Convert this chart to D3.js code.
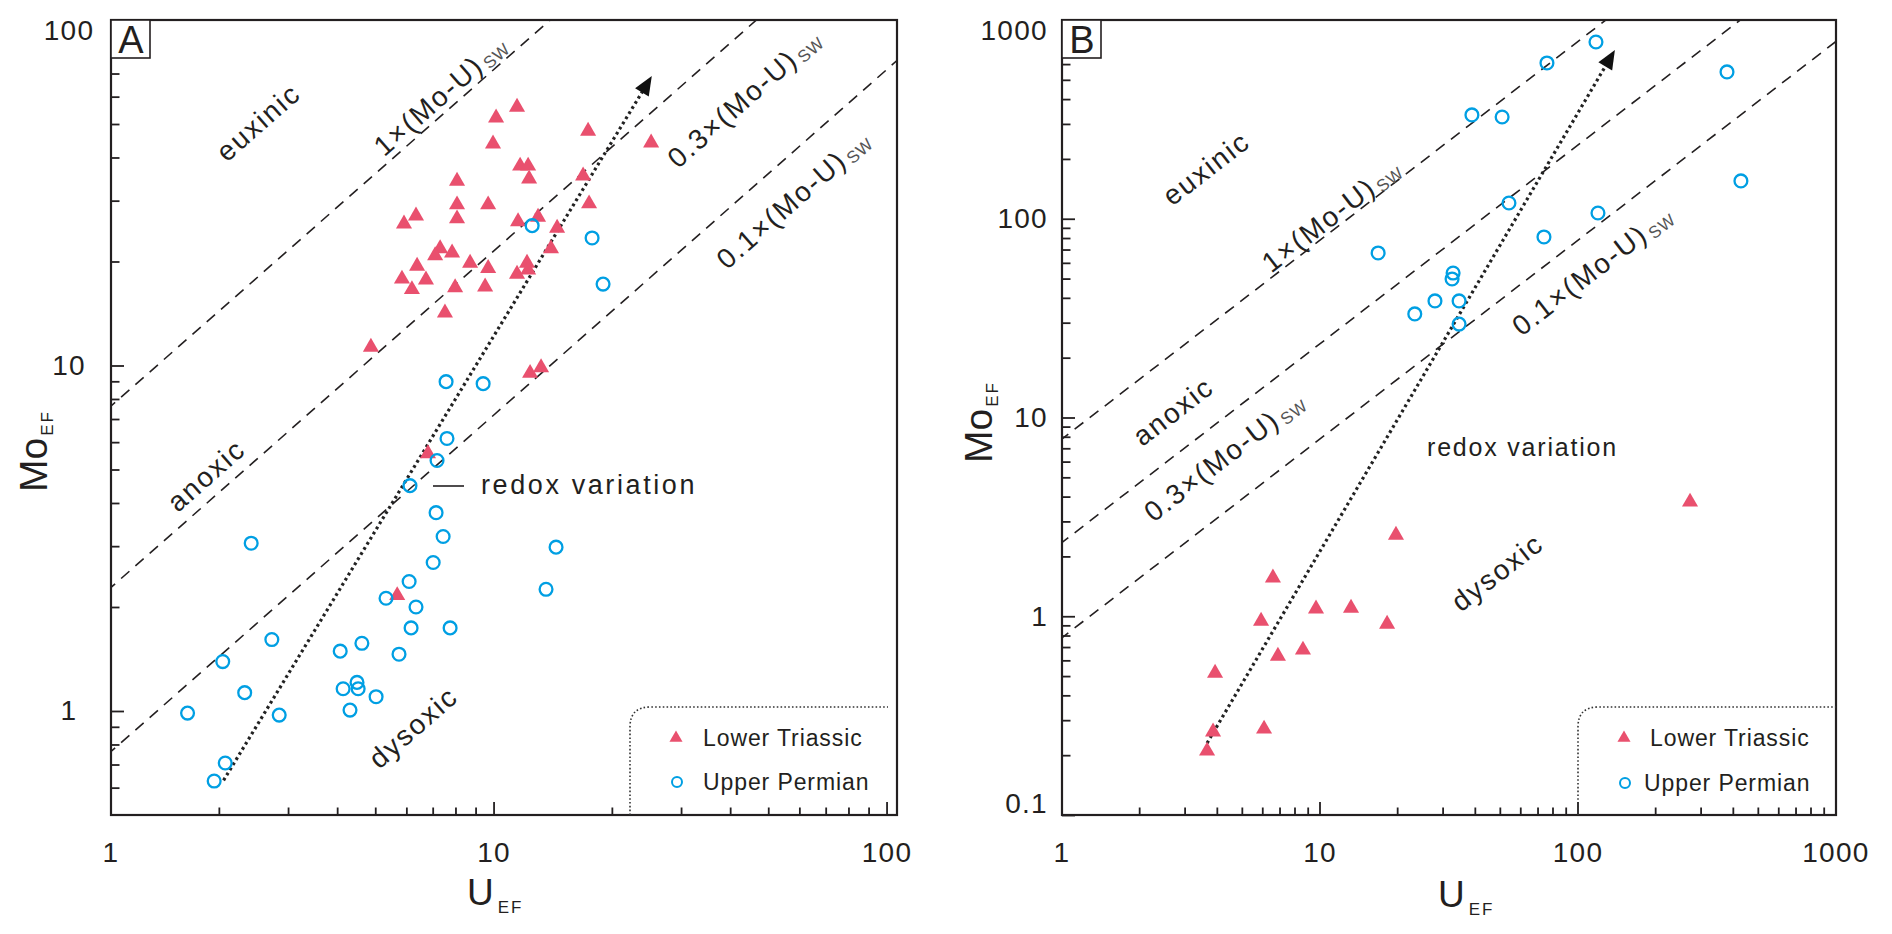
<!DOCTYPE html>
<html><head><meta charset="utf-8">
<script src="https://cdn.jsdelivr.net/npm/d3@7"></script>
<style>html,body{margin:0;padding:0;background:#fff}</style>
</head><body>
<svg id="chart" width="1892" height="934"></svg>
<script>
// ---------------- data ----------------
// Panel A
const aTriU  = [8.05,8.05,8.05,6.33,5.90,7.29,7.08,7.82,8.69,6.37,5.83,6.71,6.18,7.96,7.50,4.86,11.44,10.12,9.94,17.35,25.1,11.65,12.21,12.28,9.66,16.85,17.45,11.51,12.94,14.47,13.96,9.66,9.49,12.13,12.21,11.44,12.35,13.17,6.79,5.67];
const aTriMo = [34.2,29.2,26.6,27.1,25.7,21.8,20.8,21.2,19.8,19.4,17.8,17.7,16.6,16.8,14.2,11.3,56.0,52.1,43.8,47.7,44.1,37.8,37.8,34.7,29.2,35.4,29.4,26.1,26.9,25.0,21.8,19.1,16.9,19.8,18.9,18.4,9.5,9.86,5.56,2.16];
const aCirU  = [12.50,17.76,18.94,7.55,9.38,7.59,7.16,6.11,7.12,7.42,7.00,6.08,5.31,6.33,6.15,7.73,4.61,4.06,5.73,2.41,2.72,2.04,2.32,4.48,4.13,4.51,5.01,14.38,13.56,1.66,2.84,4.30,2.07,1.94];
const aCirMo = [25.4,23.4,17.2,8.98,8.86,6.15,5.31,4.49,3.75,3.20,2.69,2.37,2.12,2.00,1.74,1.74,1.57,1.49,1.46,3.06,1.61,1.39,1.13,1.21,1.16,1.16,1.10,2.98,2.25,0.986,0.973,1.006,0.707,0.627];
const aRatios = [7.2, 2.15, 0.72];           // 1x, 0.3x, 0.1x (Mo/U)sw lines
const aArrowU = [2.05, 25.2], aArrowMo = [0.63, 68.8];
// Panel B
const bTriU  = [19.7,6.57,5.91,9.65,13.19,18.2,6.87,8.59,3.92,3.85,6.07,3.65,271.8];
const bTriMo = [2.56,1.56,0.946,1.09,1.10,0.914,0.631,0.677,0.518,0.262,0.271,0.210,3.76];
const bCirU  = [117.4,75.8,38.8,50.8,378,428,54.0,119.5,73.8,16.8,32.8,32.5,27.9,34.6,23.3,34.6];
const bCirMo = [775,608,333,325,548,155,120,106.9,81.0,67.3,53.3,49.8,38.6,38.6,33.2,29.5];
const bRatios = [7.8, 2.35, 0.78];
const bArrowU = [3.65, 139], bArrowMo = [0.23, 706];
// ticks
const aXMajor = [1,10,100], aXMinor = [2,3,4,5,6,7,8,9,20,30,40,50,60,70,80,90];
const aYMajor = [1,10,100], aYMinor = [0.6,0.7,0.8,0.9,2,3,4,5,6,7,8,9,20,30,40,50,60,70,80,90];
const bXMajor = [1,10,100,1000], bXMinor = [2,3,4,5,6,7,8,9,20,30,40,50,60,70,80,90,200,300,400,500,600,700,800,900];
const bYMajor = [0.1,1,10,100,1000], bYMinor = [0.2,0.3,0.4,0.5,0.6,0.7,0.8,0.9,2,3,4,5,6,7,8,9,20,30,40,50,60,70,80,90,200,300,400,500,600,700,800,900];
const legendNames = ["Lower Triassic","Upper Permian"];
// --------------------------------------------------------------

const FONT = '"Liberation Sans", Arial, Helvetica, sans-serif';
const INK = '#231f20', RED = '#e9506e', BLUE = '#009fe3';
const svg = d3.select('#chart');
const defs = svg.append('defs');

function zip(u, m){ return u.map((v,i)=>({u:v, m:m[i]})); }

function panel(c){
  const x = d3.scaleLog().domain(c.xDomain).range([c.left, c.right]);
  const y = d3.scaleLog().domain(c.yDomain).range([c.bottom, c.top]);
  const g = svg.append('g');
  defs.append('clipPath').attr('id','clip'+c.id).append('rect')
    .attr('x',c.left).attr('y',c.top).attr('width',c.right-c.left).attr('height',c.bottom-c.top);

  // reference lines
  const lg = g.append('g').attr('clip-path',`url(#clip${c.id})`);
  const line = d3.line().x(d=>x(d.u)).y(d=>y(d.m));
  c.ratios.forEach(k=>{
    const us = [c.xDomain[0]*0.5, c.xDomain[1]*2];
    lg.append('path').attr('d', line(us.map(u=>({u, m:k*u}))))
      .attr('fill','none').attr('stroke',INK).attr('stroke-width',1.6).attr('stroke-dasharray','11,8');
  });

  // axes
  const xMin = d3.axisBottom(x).tickValues(c.xMinor).tickSize(-7.5).tickFormat('');
  const xMaj = d3.axisBottom(x).tickValues(c.xMajor).tickSize(-13).tickPadding(27).tickFormat(d=>String(d));
  const yMin = d3.axisLeft(y).tickValues(c.yMinor).tickSize(-8.5).tickFormat('');
  const yMaj = d3.axisLeft(y).tickValues(c.yMajor).tickSize(-13).tickPadding(c.yPad).tickFormat(d=>String(d));
  [[xMin,'b'],[xMaj,'b'],[yMin,'l'],[yMaj,'l']].forEach(([ax,side])=>{
    const a = g.append('g').attr('transform', side==='b' ? `translate(0,${c.bottom})` : `translate(${c.left},0)`).call(ax);
    a.select('.domain').remove();
    a.selectAll('.tick line').attr('stroke',INK).attr('stroke-width',1.8);
    a.selectAll('.tick text').attr('fill',INK).style('font-family',FONT).style('font-size','28px').style('letter-spacing','1.3px');
    if (side==='b') {
      a.selectAll('.tick').attr('transform', d=>`translate(${Math.max(c.left, Math.min(c.right, x(d)))},0)`);
    } else {
      if (c.yCenter) a.selectAll('.tick text').attr('text-anchor','middle').attr('x', c.yCenter - c.left);
      a.selectAll('.tick text').attr('y', d=> Math.abs(y(d)-c.top)<1 ? 11 : (Math.abs(y(d)-c.bottom)<1 ? -11 : 0));
    }
  });

  // frame
  g.append('rect').attr('x',c.left).attr('y',c.top).attr('width',c.right-c.left).attr('height',c.bottom-c.top)
    .attr('fill','none').attr('stroke',INK).attr('stroke-width',2.2);

  // panel letter box
  g.append('rect').attr('x',c.left).attr('y',c.top).attr('width',39).attr('height',38)
    .attr('fill','#fff').attr('stroke',INK).attr('stroke-width',1.6);
  g.append('text').attr('x',c.left+20).attr('y',c.top+33).attr('text-anchor','middle')
    .style('font-family',FONT).style('font-size','38px').attr('fill',INK).text(c.id);

  // rotated region / ratio labels
  const ang = Math.atan((c.bottom-c.top)/(Math.log10(c.yDomain[1]/c.yDomain[0])) / ((c.right-c.left)/Math.log10(c.xDomain[1]/c.xDomain[0])))*180/Math.PI;
  c.labels.forEach(L=>{
    const t = g.append('text').attr('transform',`translate(${L.x},${L.y}) rotate(${-ang})`)
      .attr('text-anchor','middle').attr('dy','0.36em').attr('fill',INK)
      .style('font-family',FONT).style('font-size',(L.fs||28)+'px').style('letter-spacing','2px');
    t.append('tspan').text(L.t);
    if (L.sub){
      t.append('tspan').attr('dy','0.22em').attr('dx','2').attr('fill','#555').style('font-size','17px').style('letter-spacing','1px').text(L.sub);
    }
  });

  // redox variation label
  g.append('text').attr('x',c.redox.x).attr('y',c.redox.y).attr('fill',INK)
    .style('font-family',FONT).style('font-size',c.redox.fs+'px').style('letter-spacing',c.redox.ls+'px').text('redox variation');
  if (c.redox.leader){
    const L = c.redox.leader;
    g.append('line').attr('x1',L[0]).attr('x2',L[1]).attr('y1',L[2]).attr('y2',L[2]).attr('stroke',INK).attr('stroke-width',1.6);
  }

  // dotted arrow
  const p0 = [x(c.arrowU[0]), y(c.arrowMo[0])], p1 = [x(c.arrowU[1]), y(c.arrowMo[1])];
  const dx = p1[0]-p0[0], dy = p1[1]-p0[1], len = Math.hypot(dx,dy), ux = dx/len, uy = dy/len;
  const hl = 19, hw = 8;
  const base = [p1[0]-ux*hl, p1[1]-uy*hl];
  g.append('line').attr('x1',p0[0]).attr('y1',p0[1]).attr('x2',base[0]+ux*3).attr('y2',base[1]+uy*3)
    .attr('stroke','#222').attr('stroke-width',3.2).attr('stroke-dasharray','2.8,3.2');
  g.append('path').attr('d',`M${p1[0]},${p1[1]} L${base[0]-uy*hw},${base[1]+ux*hw} L${base[0]+uy*hw},${base[1]-ux*hw} Z`)
    .attr('fill','#111');

  // points
  const tri = d3.symbol(d3.symbolTriangle, 112);
  g.append('g').selectAll('path').data(zip(c.triU,c.triMo)).join('path')
    .attr('d', tri).attr('transform', d=>`translate(${x(d.u)},${y(d.m)})`).attr('fill',RED);
  g.append('g').selectAll('circle').data(zip(c.cirU,c.cirMo)).join('circle')
    .attr('cx',d=>x(d.u)).attr('cy',d=>y(d.m)).attr('r',6.4)
    .attr('fill','none').attr('stroke',BLUE).attr('stroke-width',2.3);

  // legend
  const Lg = c.legend;
  g.append('path').attr('d',`M${Lg.x0},${c.bottom} V${Lg.y0+20} Q${Lg.x0},${Lg.y0} ${Lg.x0+20},${Lg.y0} H${Lg.x1}`)
    .attr('fill','none').attr('stroke','#333').attr('stroke-width',1.6).attr('stroke-dasharray','1.6,2.2');
  g.append('path').attr('d', d3.symbol(d3.symbolTriangle, 74)).attr('transform',`translate(${Lg.mx},${Lg.y1})`).attr('fill',RED);
  g.append('circle').attr('cx',Lg.mx+1).attr('cy',Lg.y2).attr('r',5).attr('fill','none').attr('stroke',BLUE).attr('stroke-width',2);
  [[legendNames[0],Lg.tx1,Lg.y1],[legendNames[1],Lg.tx2,Lg.y2]].forEach(([t,tx,ty])=>{
    g.append('text').attr('x',tx).attr('y',ty+8).attr('fill',INK)
      .style('font-family',FONT).style('font-size','23px').style('letter-spacing','0.9px').text(t);
  });

  // axis titles
  const ty = g.append('text').attr('transform',`translate(${c.moX},${c.moY}) rotate(-90)`).attr('fill',INK).style('font-family',FONT);
  ty.append('tspan').style('font-size','39px').text('Mo');
  ty.append('tspan').attr('dy',6).attr('dx',2).style('font-size','17px').style('letter-spacing','2px').text('EF');
  const tx = g.append('text').attr('x',c.uX).attr('y',c.uY).attr('fill',INK).style('font-family',FONT);
  tx.append('tspan').style('font-size','37px').text('U');
  tx.append('tspan').attr('dy',8).attr('dx',4).style('font-size','17px').style('letter-spacing','2px').text('EF');
}

panel({
  id:'A', left:111, right:897, top:20, bottom:815,
  xDomain:[1.06,106], yDomain:[0.5,100],
  xMajor:aXMajor, xMinor:aXMinor, yMajor:aYMajor, yMinor:aYMinor, yPad:16, yCenter:69,
  ratios:aRatios, triU:aTriU, triMo:aTriMo, cirU:aCirU, cirMo:aCirMo, arrowU:aArrowU, arrowMo:aArrowMo,
  labels:[
    {t:'euxinic', x:258, y:122},
    {t:'1×(Mo-U)', sub:'SW', x:440, y:95},
    {t:'0.3×(Mo-U)', sub:'SW', x:744, y:98},
    {t:'0.1×(Mo-U)', sub:'SW', x:793, y:199},
    {t:'anoxic', x:206, y:475},
    {t:'dysoxic', x:413, y:727}
  ],
  redox:{x:481, y:494, fs:27, ls:2.6, leader:[433,464,486]},
  legend:{x0:630, y0:707, x1:888, mx:676, y1:738, y2:782, tx1:703, tx2:703},
  moX:47, moY:492, uX:467, uY:905
});

panel({
  id:'B', left:1062, right:1836, top:20, bottom:815,
  xDomain:[1,1000], yDomain:[0.1,1000],
  xMajor:bXMajor, xMinor:bXMinor, yMajor:bYMajor, yMinor:bYMinor, yPad:14, yCenter:null,
  ratios:bRatios, triU:bTriU, triMo:bTriMo, cirU:bCirU, cirMo:bCirMo, arrowU:bArrowU, arrowMo:bArrowMo,
  labels:[
    {t:'euxinic', x:1206, y:168},
    {t:'1×(Mo-U)', sub:'SW', x:1331, y:215},
    {t:'anoxic', x:1173, y:411},
    {t:'0.3×(Mo-U)', sub:'SW', x:1224, y:456},
    {t:'0.1×(Mo-U)', sub:'SW', x:1592, y:270},
    {t:'dysoxic', x:1497, y:572}
  ],
  redox:{x:1427, y:456, fs:25, ls:1.8, leader:null},
  legend:{x0:1578, y0:707, x1:1836, mx:1624, y1:738, y2:783, tx1:1650, tx2:1644},
  moX:992, moY:463, uX:1438, uY:907
});
</script>
</body></html>
